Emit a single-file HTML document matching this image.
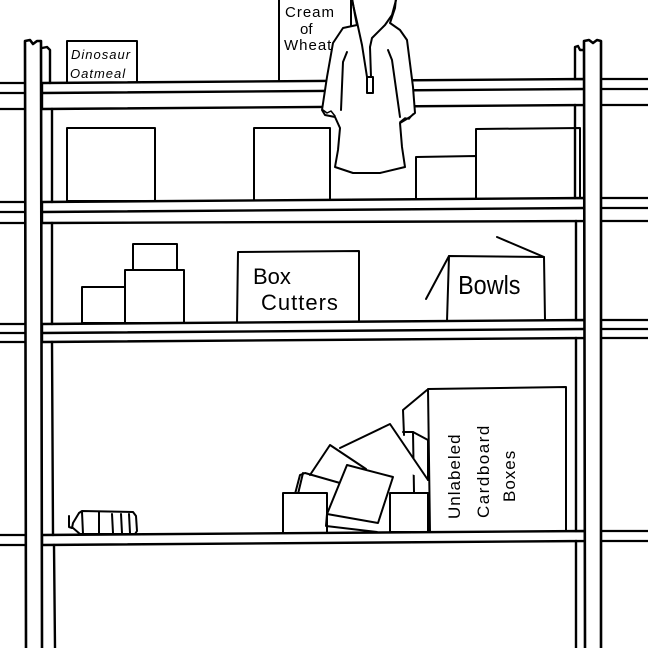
<!DOCTYPE html>
<html><head><meta charset="utf-8"><style>
html,body{margin:0;padding:0;background:#fff;}
svg{display:block;}
text{font-family:"Liberation Sans",sans-serif;fill:#000;}
</style></head><body>
<svg width="648" height="648" viewBox="0 0 648 648" xmlns="http://www.w3.org/2000/svg" fill="none" stroke="#000" stroke-width="2" stroke-linejoin="round" stroke-linecap="round">
<rect width="648" height="648" fill="#fff" stroke="none"/>

<rect x="67" y="41" width="70" height="42" fill="#fff"/>
<text x="71" y="59" font-size="13" stroke="none" font-style="italic" letter-spacing="1">Dinosaur</text>
<text x="70" y="78" font-size="13" stroke="none" font-style="italic" letter-spacing="1">Oatmeal</text>

<rect x="279" y="-2" width="72" height="84" fill="#fff"/>
<text x="285" y="17" font-size="15" stroke="none" letter-spacing="1">Cream</text>
<text x="300" y="34" font-size="15" stroke="none">of</text>
<text x="284" y="50" font-size="15" stroke="none" letter-spacing="1">Wheat</text>

<g stroke-width="2.2">
<line x1="0" y1="83" x2="26" y2="83"/><line x1="0" y1="93" x2="26" y2="93"/><line x1="0" y1="109" x2="26" y2="109"/>
<line x1="0" y1="202" x2="26" y2="202"/><line x1="0" y1="212" x2="26" y2="212"/><line x1="0" y1="223" x2="26" y2="223"/>
<line x1="0" y1="324" x2="26" y2="324"/><line x1="0" y1="333" x2="26" y2="333"/><line x1="0" y1="342" x2="26" y2="342"/>
<line x1="0" y1="535" x2="26" y2="535"/><line x1="0" y1="545" x2="26" y2="545"/>
<line x1="601" y1="79" x2="648" y2="79"/><line x1="601" y1="89" x2="648" y2="89"/><line x1="601" y1="105" x2="648" y2="105"/>
<line x1="601" y1="198" x2="648" y2="198"/><line x1="601" y1="208" x2="648" y2="208"/><line x1="601" y1="221" x2="648" y2="221"/>
<line x1="601" y1="320" x2="648" y2="320"/><line x1="601" y1="329" x2="648" y2="329"/><line x1="601" y1="338" x2="648" y2="338"/>
<line x1="601" y1="531" x2="648" y2="531"/><line x1="601" y1="541" x2="648" y2="541"/>
</g>

<rect x="67" y="128" width="88" height="73"/>
<rect x="254" y="128" width="76" height="73"/>
<path d="M416 200 L416 157 L476 156 L476 199"/>
<path d="M476 199 L476 129 L580 128 L580 198"/>

<rect x="82" y="287" width="43" height="36"/>
<rect x="125" y="270" width="59" height="53"/>
<rect x="133" y="244" width="44" height="26"/>
<path d="M237 323 L238 252 L359 251 L359 322"/>
<text x="253" y="284" font-size="22" stroke="none">Box</text>
<text x="261" y="310" font-size="22" stroke="none" letter-spacing="1">Cutters</text>
<path d="M447 321 L449 256 L544 257 L545 320"/>
<line x1="449" y1="256" x2="426" y2="299"/>
<line x1="544" y1="257" x2="497" y2="237"/>
<text x="458" y="294" font-size="26" stroke="none" transform="scale(0.9,1) translate(51,0)">Bowls</text>

<path d="M69 516 L69 527 L72 528 L73 523 L79 513 L82 511 L133 512 L136 516 L137 531 L135 534 L80 534 L73 528"/>
<path d="M82 512 L83 534 M99 512 L99 534 M112 514 L113 533 M121 514 L122 533 M129 514 L130 533"/>
<path d="M404 435 L403 410 L427 390"/>
<path d="M403 432 L413 432 L428 440 L428 480"/>
<path d="M413 432 L414 492"/>
<path d="M340 448 L390 424 L428 480" fill="#fff"/>
<path d="M310 475 L330 445 L366 469" fill="#fff"/>
<path d="M295 494 L300 475 L305 473 L340 483"/>
<path d="M303 473 L298 494"/>
<rect x="283" y="493" width="44" height="40" fill="#fff"/>
<rect x="390" y="493" width="38" height="39" fill="#fff"/>
<path d="M347 465 L393 477 L378 523 L327 514 Z" fill="#fff"/>
<path d="M327 514 L326 526 L377 532"/>
<path d="M430 532 L428 389 L566 387 L566 530"/>
<text transform="translate(460,519) rotate(-90)" font-size="17" stroke="none" letter-spacing="1">Unlabeled</text>
<text transform="translate(489,518) rotate(-90)" font-size="17" stroke="none" letter-spacing="1.5">Cardboard</text>
<text transform="translate(515,502) rotate(-90)" font-size="17" stroke="none" letter-spacing="1">Boxes</text>

<g stroke-width="2.4" fill="#fff">
<path d="M42 83 L585 79 L585 105 L42 109 Z"/>
<line x1="42" y1="93" x2="585" y2="89"/>
<path d="M42 202 L585 198 L585 221 L42 223 Z"/>
<line x1="42" y1="212" x2="585" y2="208"/>
<path d="M42 324 L585 320 L585 338 L42 342 Z"/>
<line x1="42" y1="333" x2="585" y2="329"/>
<path d="M42 535 L585 531 L585 541 L42 545 Z"/>
</g>

<path d="M357 25 L343 28 L333 43 L327 77 L322 110 L325 115 L335 117 L340 128 L338 150 L335 167 L353 173 L380 173 L405 167 L402 147 L400 123 L410 117 L415 113 L413 87 L407 40 L400 30 L390 23 L395 8 L396 -2 L352 -2 L355 15 Z" fill="#fff"/>
<path d="M352 0 L357 22 L362 45 L367 77"/>
<path d="M396 0 L392 15 L385 25 L372 38 L370 47 L371 77"/>
<rect x="367" y="77" width="6" height="16"/>
<path d="M347 52 L343 62 L341 110"/>
<path d="M388 50 L392 60 L400 117"/>
<path d="M323 110 L327 113 L331 111 L335 116" stroke-width="1.5"/>
<path d="M400 122 L405 118 L409 119 L413 114" stroke-width="1.5"/>

<g stroke-width="2.4">
<path d="M50 83 L50 50 L47 47 L42 48"/>
<line x1="52" y1="109" x2="52" y2="202"/>
<line x1="52" y1="223" x2="52" y2="324"/>
<line x1="52" y1="342" x2="53" y2="535"/>
<line x1="54" y1="545" x2="55" y2="648"/>
<path d="M575 79 L575 47 L578 46 L580 50 L585 50"/>
<line x1="575" y1="105" x2="575" y2="198"/>
<line x1="576" y1="221" x2="576" y2="320"/>
<line x1="576" y1="338" x2="576" y2="531"/>
<line x1="576" y1="541" x2="576" y2="648"/>
</g>
<g stroke-width="2.6" fill="#fff">
<path d="M26 648 L25 41 L30 40 L33 44 L37 41 L41 41 L42 648"/>
<path d="M585 648 L584 41 L589 40 L593 43 L597 40 L601 41 L601 648"/>
</g>
</svg>
</body></html>
